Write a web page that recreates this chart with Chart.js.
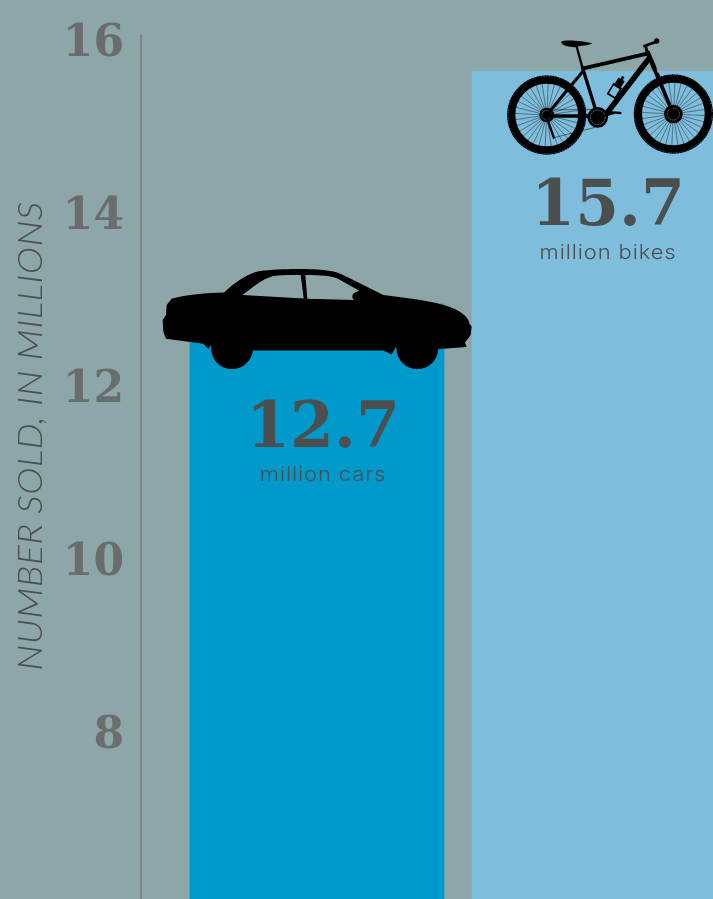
<!DOCTYPE html>
<html>
<head>
<meta charset="utf-8">
<title>Cars and bikes sold</title>
<script src="https://cdn.jsdelivr.net/npm/chart.js@4"></script>
<style>
    html, body { margin: 0; padding: 0; background: #8da6a8; overflow: hidden; }
    canvas { display: block; }
</style>
</head>
<body>
<canvas id="chart" width="713" height="899"></canvas>
<script>
// Chart data
const categories = ['cars', 'bikes'];
const soldMillions = [12.7, 15.7];
const unitLabels = ['million cars', 'million bikes'];
const tickValues = [8, 10, 12, 14, 16];
const axisTitle = 'NUMBER SOLD, IN MILLIONS';

const BG = '#8da6a8';
const BAR_COLORS = ['#0099cc', '#7fbddd'];
const TICK_COLOR = '#6a6d6d';
const TEXT_COLOR = '#4b4f50';

// Car outline, traced; drawn at a third of this size around the bar top
function drawCar(ctx, bar) {
    ctx.save();
    ctx.translate(bar.x, bar.y);
    ctx.scale(1 / 3, 1 / 3);
    ctx.translate(-501, -147);
    ctx.fillStyle = '#000';

    const p = new Path2D();
    p.moveTo(222, 112);
    p.bezierCurveTo(260, 78, 295, 55, 330, 48);
    p.bezierCurveTo(390, 40, 480, 40, 530, 46);
    p.bezierCurveTo(560, 49, 578, 58, 592, 66);
    p.lineTo(700, 120);
    p.bezierCurveTo(780, 130, 850, 138, 900, 156);
    p.bezierCurveTo(935, 170, 955, 185, 958, 205);
    p.lineTo(965, 215);
    p.lineTo(962, 240);
    p.lineTo(945, 262);
    p.lineTo(950, 276);
    p.lineTo(868, 282);
    p.lineTo(738, 275);
    p.lineTo(725, 298);
    p.lineTo(700, 286);
    p.lineTo(310, 286);
    p.lineTo(183, 270);
    p.lineTo(175, 282);
    p.lineTo(160, 266);
    p.lineTo(48, 251);
    p.lineTo(40, 230);
    p.lineTo(38, 195);
    p.lineTo(48, 180);
    p.lineTo(50, 150);
    p.lineTo(65, 131);
    p.bezierCurveTo(110, 118, 170, 113, 222, 112);
    p.closePath();

    // rear side window
    p.moveTo(277, 120);
    p.bezierCurveTo(305, 100, 335, 72, 370, 63);
    p.bezierCurveTo(395, 59, 430, 60, 452, 60);
    p.lineTo(461, 130);
    p.closePath();

    // front side window
    p.moveTo(466, 60);
    p.bezierCurveTo(510, 60, 545, 62, 565, 72);
    p.lineTo(628, 107);
    p.bezierCurveTo(610, 112, 600, 122, 612, 135);
    p.lineTo(472, 131);
    p.closePath();
    ctx.fill(p, 'evenodd');

    // wheels
    [[246, 279], [802, 279]].forEach(([x, y]) => {
        ctx.beginPath();
        ctx.arc(x, y, 63, 0, Math.PI * 2);
        ctx.fill();
    });
    ctx.restore();
}

function line(ctx, x1, y1, x2, y2, width) {
    ctx.lineWidth = width;
    ctx.beginPath();
    ctx.moveTo(x1, y1);
    ctx.lineTo(x2, y2);
    ctx.stroke();
}

function drawWheel(ctx, cx, cy, hub) {
    // knobby tyre
    ctx.lineWidth = 22;
    ctx.beginPath();
    ctx.arc(cx, cy, 105, 0, Math.PI * 2);
    ctx.stroke();
    ctx.setLineDash([4, 4]);
    ctx.lineWidth = 4;
    ctx.beginPath();
    ctx.arc(cx, cy, 117, 0, Math.PI * 2);
    ctx.stroke();
    ctx.setLineDash([]);

    // spokes
    ctx.lineWidth = 1.2;
    for (let i = 0; i < 32; i++) {
        const a = i * Math.PI / 16 + 0.05;
        ctx.beginPath();
        ctx.moveTo(cx + Math.cos(a) * hub * 0.6, cy + Math.sin(a) * hub * 0.6);
        ctx.lineTo(cx + Math.cos(a) * 98, cy + Math.sin(a) * 98);
        ctx.stroke();
    }

    // hub / disc
    ctx.beginPath();
    ctx.arc(cx, cy, hub, 0, Math.PI * 2);
    ctx.fill();
    ctx.save();
    ctx.strokeStyle = '#7fbddd';
    ctx.lineWidth = 1.5;
    ctx.setLineDash([3, 4]);
    ctx.beginPath();
    ctx.arc(cx, cy, hub * 0.65, 0, Math.PI * 2);
    ctx.stroke();
    ctx.restore();
}

// Bike, traced the same way
function drawBike(ctx, bar) {
    ctx.save();
    ctx.translate(bar.x, bar.y);
    ctx.scale(1 / 3, 1 / 3);
    ctx.translate(-312, -123);
    ctx.fillStyle = '#000';
    ctx.strokeStyle = '#000';
    ctx.lineCap = 'round';

    drawWheel(ctx, 155, 255, 22);
    drawWheel(ctx, 535, 252, 28);

    // frame
    line(ctx, 265, 115, 460, 70, 11);
    line(ctx, 462, 85, 335, 250, 17);
    line(ctx, 262, 112, 305, 250, 10);
    line(ctx, 265, 122, 155, 255, 9);
    line(ctx, 155, 258, 300, 258, 11);
    line(ctx, 458, 68, 478, 115, 14);
    line(ctx, 475, 110, 535, 252, 11);
    line(ctx, 490, 130, 510, 190, 4);

    // bars, seat
    line(ctx, 455, 62, 452, 50, 9);
    line(ctx, 448, 48, 482, 36, 8);
    ctx.beginPath();
    ctx.arc(485, 33, 8, 0, Math.PI * 2);
    ctx.fill();
    line(ctx, 245, 50, 262, 112, 7);
    ctx.beginPath();
    ctx.moveTo(198, 36);
    ctx.bezierCurveTo(205, 28, 260, 32, 292, 40);
    ctx.bezierCurveTo(280, 48, 255, 46, 240, 52);
    ctx.bezierCurveTo(225, 50, 200, 48, 198, 36);
    ctx.fill();

    // chainring, pedal, derailleur, chain
    ctx.beginPath();
    ctx.arc(308, 262, 31, 0, Math.PI * 2);
    ctx.fill();
    ctx.save();
    ctx.strokeStyle = '#7fbddd';
    ctx.lineWidth = 1.5;
    ctx.setLineDash([4, 4]);
    ctx.beginPath();
    ctx.arc(308, 262, 22, 0, Math.PI * 2);
    ctx.stroke();
    ctx.restore();
    line(ctx, 310, 262, 355, 250, 6);
    line(ctx, 350, 247, 376, 249, 7);
    line(ctx, 155, 262, 176, 323, 7);
    line(ctx, 176, 323, 300, 292, 1.5);
    line(ctx, 160, 240, 300, 238, 1.5);

    // bottle
    ctx.save();
    ctx.translate(365, 172);
    ctx.rotate(0.55);
    ctx.lineWidth = 5;
    ctx.strokeRect(-13, -4, 26, 34);
    ctx.fillRect(-11, -28, 22, 28);
    ctx.fillRect(-4, -38, 8, 12);
    ctx.restore();
    ctx.restore();
}

const annotations = {
    id: 'annotations',
    afterDatasetsDraw(chart) {
        const ctx = chart.ctx;
        const bars = chart.getDatasetMeta(0).data;

        drawCar(ctx, bars[0]);
        drawBike(ctx, bars[1]);

        // offsets from bar top to the two text rows
        const layout = [
            { dx: 6, number: 127, unit: 171 },
            { dx: 9, number: 138, unit: 182 }
        ];
        ctx.save();
        ctx.textAlign = 'center';
        ctx.textBaseline = 'middle';
        ctx.fillStyle = TEXT_COLOR;
        bars.forEach((bar, i) => {
            ctx.font = 'bold 63px "DejaVu Serif"';
            ctx.fillText(soldMillions[i].toFixed(1), bar.x + layout[i].dx, bar.y + layout[i].number);

            // the original face is wider than anything installed
            ctx.save();
            ctx.translate(bar.x + layout[i].dx, bar.y + layout[i].unit);
            ctx.scale(1.1, 1);
            ctx.font = '300 20px Inter';
            ctx.letterSpacing = '0.8px';
            ctx.fillText(unitLabels[i], 0, 0);
            ctx.restore();
        });
        ctx.restore();

        // axis title, rotated
        ctx.save();
        ctx.translate(31, 436);
        ctx.rotate(-Math.PI / 2);
        ctx.scale(1.12, 1);
        ctx.textAlign = 'center';
        ctx.textBaseline = 'middle';
        ctx.fillStyle = TEXT_COLOR;
        ctx.font = 'italic 300 33px Lato';
        ctx.letterSpacing = '0.4px';
        ctx.fillText(axisTitle, 0, 0);
        ctx.restore();
    }
};

new Chart(document.getElementById('chart'), {
    type: 'bar',
    data: {
        labels: categories,
        datasets: [{
            data: soldMillions.map((v, i) => ({ x: i + 1, y: v })),
            yAxisID: 'yBars',
            backgroundColor: BAR_COLORS,
            barThickness: 254,
            borderWidth: 0
        }]
    },
    plugins: [annotations, {
        id: 'background',
        beforeDraw(chart) {
            chart.ctx.fillStyle = BG;
            chart.ctx.fillRect(0, 0, chart.width, chart.height);
        }
    }],
    options: {
        responsive: false,
        animation: false,
        layout: { padding: { top: 36, right: 0, bottom: 0, left: 0 } },
        plugins: { legend: { display: false }, tooltip: { enabled: false } },
        scales: {
            x: {
                type: 'linear',
                display: false,
                offset: false,
                min: 0.376,
                max: 2.404,
                grid: { display: false }
            },
            // printed axis
            y: {
                position: 'left',
                min: 6.128,
                max: 16.104,
                afterBuildTicks(scale) {
                    scale.ticks = tickValues.map(v => ({ value: v }));
                },
                afterFit(scale) {
                    scale.width = 141;
                    scale.paddingTop = 0;
                    scale.paddingBottom = 0;
                },
                grid: { display: false, drawTicks: false },
                border: { display: true, color: '#7c8588', width: 2 },
                ticks: {
                    padding: 17,
                    color: TICK_COLOR,
                    font: { family: 'DejaVu Serif', size: 44, weight: 'bold' }
                }
            },
            // the bars in the original do not follow the printed axis exactly,
            // so they get their own hidden scale
            yBars: {
                display: false,
                min: 5.04,
                max: 16.151,
                grid: { display: false }
            }
        }
    }
});
</script>
</body>
</html>
